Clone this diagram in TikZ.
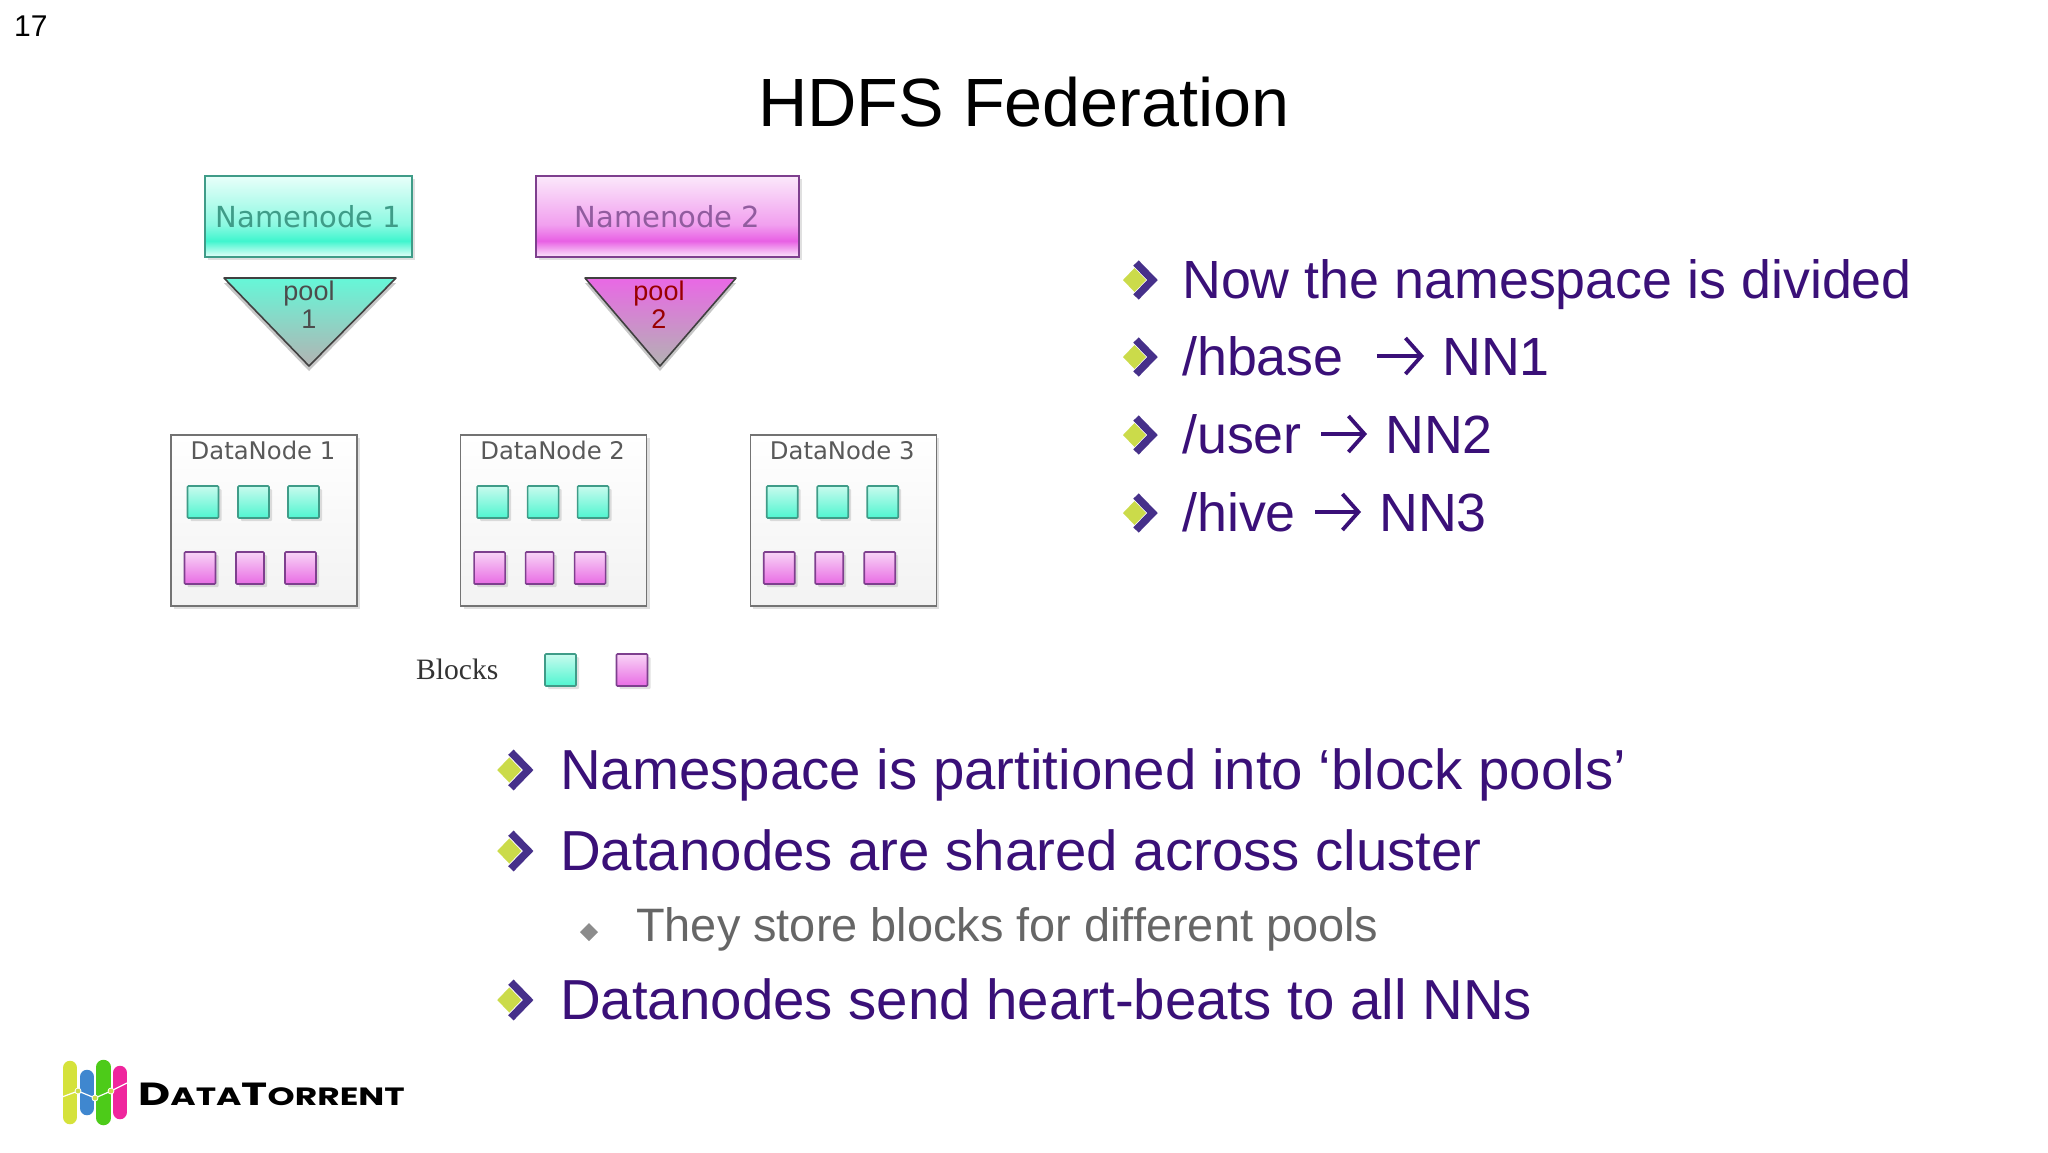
\documentclass[tikz,border=0pt]{standalone}
\usepackage{fontspec}
\setmainfont{Liberation Sans}
\newfontfamily\vera{DejaVu Sans}
\newfontfamily\sansb{Liberation Serif}
\newfontfamily\logofont{Poppins}
\usetikzlibrary{shadows,calc,arrows.meta}
\definecolor{purpletext}{HTML}{3A1078}
\definecolor{chev}{HTML}{46308A}
\definecolor{limeb}{HTML}{CBDB4A}
\definecolor{tealline}{HTML}{3F9C88}
\definecolor{pinkline}{HTML}{7E3F8E}
\definecolor{tealtop}{HTML}{E8FFFA}
\definecolor{tealmid}{HTML}{3FF5CE}
\definecolor{pinktop}{HTML}{FBE8FB}
\definecolor{pinkmid}{HTML}{E860E4}
\definecolor{lbtop}{HTML}{C8FBEE}
\definecolor{lbbot}{HTML}{4FF5D0}
\definecolor{pbtop}{HTML}{F8D4F6}
\definecolor{pbbot}{HTML}{E86CE4}
\pgfdeclareverticalshading{nnteal}{100bp}{color(0bp)=(white);color(25bp)=(tealtop);color(35bp)=(tealmid);color(45bp)=(tealmid!60!white);color(75bp)=(tealtop);color(100bp)=(tealtop)}
\pgfdeclareverticalshading{nnpink}{100bp}{color(0bp)=(white);color(25bp)=(pinktop);color(35bp)=(pinkmid);color(45bp)=(pinkmid!60!white);color(75bp)=(pinktop);color(100bp)=(pinktop)}
\tikzset{
  x=1pt,y=-1pt,
  softshadow/.style={general shadow={shadow xshift=3pt,shadow yshift=-3pt,fill=black,opacity=.12}},
  poolshadow/.style={general shadow={shadow xshift=0pt,shadow yshift=-5pt,fill=black,opacity=.22}},
  namebox/.style={draw,line width=1.8pt,inner sep=0pt,minimum height=81pt,softshadow,font=\vera\fontsize{29}{31}\selectfont},
  tealnn/.style={namebox,draw=tealline,shading=nnteal,text=tealline},
  pinknn/.style={namebox,draw=pinkline,shading=nnpink,text=pinkline!85!white},
  datanode/.style={draw=black!55,line width=1.3pt,minimum width=186pt,minimum height=171pt,inner sep=0pt,top color=white,bottom color=black!5,softshadow},
  dnlabel/.style={font=\vera\fontsize{24.3}{26}\selectfont,text=black!65,inner sep=0pt},
  tealblock/.style={draw=tealline,line width=1.6pt,rounded corners=1pt,inner sep=0pt,minimum width=31pt,minimum height=32pt,top color=lbtop,bottom color=lbbot,softshadow},
  pinkblock/.style={draw=pinkline,line width=1.6pt,rounded corners=1pt,inner sep=0pt,minimum width=31pt,minimum height=32pt,top color=pbtop,bottom color=pbbot,softshadow},
  bigtext/.style={anchor=base west,inner sep=0pt,text=purpletext,font=\fontsize{53.8}{60}\selectfont},
  lowtext/.style={anchor=base west,inner sep=0pt,text=purpletext,font=\fontsize{56.4}{60}\selectfont},
  subtext/.style={anchor=base west,inner sep=0pt,text=black!60,font=\fontsize{46.9}{50}\selectfont},
  tolink/.style={draw=purpletext,line width=3.8pt,-{Straight Barb[length=16pt,width=36pt,line width=3.8pt]}},
  pooltext/.style={inner sep=0pt,align=center,font=\fontsize{27}{28}\selectfont},
  bulletmark/.pic={
    \fill[limeb] (-15,0) -- (-3.5,-12) -- (8,0) -- (-3.5,12) -- cycle;
    \draw[chev,line width=7.5pt,miter limit=10] (-2,-17) -- (14.5,0) -- (-2,17);
  },
  logobar/.style={line width=14.5pt,line cap=round},
  logodot/.style={circle,fill=limeb,draw=white,line width=.8pt,inner sep=0pt,minimum size=6pt}
}
\begin{document}
\begin{tikzpicture}
\useasboundingbox (0,0) rectangle (2048,1152);
\fill[white] (0,0) rectangle (2048,1152);

\node[anchor=base west,inner sep=0pt,font=\fontsize{30}{32}\selectfont] (pagenum) at (14,36) {17};
\node[anchor=base,inner sep=0pt,font=\fontsize{68.3}{72}\selectfont] (title) at (1024,126) {HDFS Federation};

% namenodes
\node[tealnn,minimum width=207pt] (nn1) at (308.5,216.5) {Namenode 1};
\node[pinknn,minimum width=263pt] (nn2) at (667.5,216.5) {Namenode 2};

% pools
\draw[black!75,line width=1.6pt,line join=round,top color=tealmid!80!white,bottom color=black!30,poolshadow]
  (224,278) -- (396,278) -- (309,366) -- cycle;
\draw[black!75,line width=1.6pt,line join=round,top color=pinkmid!95!white,bottom color=black!30,poolshadow]
  (585,278) -- (736,278) -- (660,366) -- cycle;
\node[pooltext,text=black!70] (pool1) at (309,305) {pool\\1};
\node[pooltext,text=red!60!black] (pool2) at (659,305) {pool\\2};

% data nodes
\foreach \d/\ox in {1/0,2/289.6,3/579.2}{
  \begin{scope}[shift={(\ox,0)}]
    \node[datanode] (dn\d) at (264,520.5) {};
    \node[dnlabel] (dnl\d) at (263,450) {DataNode \d};
    \node[tealblock] (t\d a) at (203,502) {};
    \node[tealblock] (t\d b) at (253.5,502) {};
    \node[tealblock] (t\d c) at (303.5,502) {};
    \node[pinkblock] (p\d a) at (200,568) {};
    \node[pinkblock,minimum width=28pt] (p\d b) at (250,568) {};
    \node[pinkblock] (p\d c) at (300.5,568) {};
  \end{scope}
}

% legend
\node[anchor=base west,inner sep=0pt,text=black!80,font=\sansb\fontsize{29.6}{33}\selectfont] (blocks) at (416,679) {Blocks};
\node[tealblock] (legt) at (560.5,670) {};
\node[pinkblock] (legp) at (632,670) {};

% right list
\pic at (1138,280) {bulletmark};
\node[bigtext] (r1) at (1182,298) {Now the namespace is divided};
\pic at (1138,357) {bulletmark};
\node[bigtext] (r2a) at (1182,375) {/hbase};
\node[bigtext] (r2b) at (1442,375) {NN1};
\draw[tolink] ($(r2a.base east)+(33,-19)$) -- ($(r2b.base west)+(-18,-19)$);
\pic at (1138,435) {bulletmark};
\node[bigtext] (r3a) at (1182,453) {/user};
\node[bigtext] (r3b) at (1385,453) {NN2};
\draw[tolink] ($(r3a.base east)+(19,-19)$) -- ($(r3b.base west)+(-18,-19)$);
\pic at (1138,513) {bulletmark};
\node[bigtext] (r4a) at (1182,531) {/hive};
\node[bigtext] (r4b) at (1379,531) {NN3};
\draw[tolink] ($(r4a.base east)+(19,-19)$) -- ($(r4b.base west)+(-18,-19)$);

% lower list
\pic[scale=1.05] at (513,770) {bulletmark};
\node[lowtext] (b1) at (560,789) {Namespace is partitioned into ‘block pools’};
\pic[scale=1.05] at (513,851) {bulletmark};
\node[lowtext] (b2) at (560,870) {Datanodes are shared across cluster};
\fill[black!45] (589,923) -- (598,932) -- (589,941) -- (580,932) -- cycle;
\node[subtext] (b3) at (636,941) {They store blocks for different pools};
\pic[scale=1.05] at (513,1000) {bulletmark};
\node[lowtext] (b4) at (560,1019) {Datanodes send heart-beats to all NNs};

% logo
\draw[logobar,draw=limeb!80!yellow] (70,1068) -- (70,1117);
\draw[logobar,draw=cyan!55!blue!80!white] (87,1077) -- (87,1108);
\draw[logobar,draw=green!55!olive!90!white] (103.5,1067) -- (103.5,1118);
\draw[logobar,draw=magenta!85!white] (120,1073) -- (120,1112);
\draw[white,line width=1.2pt] (62,1097) -- (78,1091) -- (95,1098) -- (111,1091) -- (127,1083);
\node[logodot] (ld1) at (78,1091) {};
\node[logodot] (ld2) at (95,1098) {};
\node[logodot] (ld3) at (111,1091) {};
\node[anchor=base west,inner sep=0pt,font=\logofont\bfseries\fontsize{32}{34}\selectfont,xscale=1.38,transform shape] (logo) at (138,1105) {D{\fontsize{25}{26}\selectfont ATA}T{\fontsize{25}{26}\selectfont ORRENT}};
\end{tikzpicture}
\end{document}
